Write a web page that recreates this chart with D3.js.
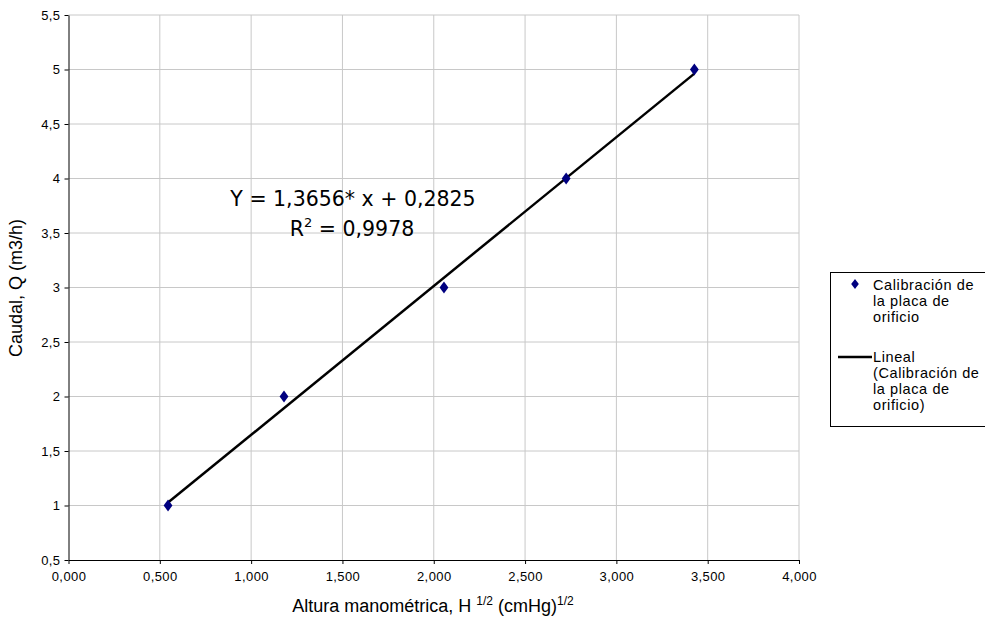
<!DOCTYPE html>
<html><head><meta charset="utf-8">
<script src="https://cdn.jsdelivr.net/npm/d3@7"></script>
<style>body{margin:0;background:#fff;}svg{display:block;}</style>
</head><body>
<svg id="c" width="985" height="621"></svg>
<script>
const xValues = [0.545, 1.180, 2.056, 2.725, 3.427];
const yValues = [1, 2, 3, 4, 5];
const slope = 1.3656, intercept = 0.2825;
const xTicks = [0, 0.5, 1, 1.5, 2, 2.5, 3, 3.5, 4];
const yTicks = [0.5, 1, 1.5, 2, 2.5, 3, 3.5, 4, 4.5, 5, 5.5];
const legendSeries = ["Calibración de", "la placa de", "orificio"];
const legendTrend = ["Lineal", "(Calibración de", "la placa de", "orificio)"];

const svg = d3.select("#c");
const L = 68.5, R = 799, T = 15, B = 560;
const x = d3.scaleLinear().domain([0, 4]).range([L, R]);
const y = d3.scaleLinear().domain([0.5, 5.5]).range([B, T]);
const fmtX = v => d3.format(".3f")(v).replace(".", ",");
const fmtY = v => String(v).replace(".", ",");
const SANS = "Liberation Sans, Arial, sans-serif";

// grid
const g = svg.append("g");
g.selectAll(".gx").data(xTicks.slice(1)).join("line")
  .attr("x1", d => x(d)).attr("x2", d => x(d)).attr("y1", T).attr("y2", B)
  .attr("stroke", "#c8c8c8").attr("stroke-width", 1);
g.selectAll(".gy").data(yTicks.slice(1)).join("line")
  .attr("x1", L).attr("x2", R).attr("y1", d => y(d)).attr("y2", d => y(d))
  .attr("stroke", "#c8c8c8").attr("stroke-width", 1);

// axes
const xa = svg.append("g").attr("transform", `translate(0,${B})`)
  .call(d3.axisBottom(x).tickValues(xTicks).tickFormat(fmtX).tickSize(4).tickSizeOuter(0));
const ya = svg.append("g").attr("transform", `translate(${L},0)`)
  .call(d3.axisLeft(y).tickValues(yTicks).tickFormat(fmtY).tickSize(4).tickSizeOuter(0));
[xa, ya].forEach(a => {
  a.select(".domain").attr("stroke", "#000");
  a.selectAll(".tick line").attr("stroke", "#000");
  a.selectAll("text").attr("font-family", SANS).attr("font-size", 13)
    .attr("letter-spacing", 0.4).attr("fill", "#000");
});
xa.selectAll("text").attr("y", 12).attr("dy", "0.71em");
ya.selectAll("text").attr("x", -8).attr("dy", "0.32em");

// trendline
const xmin = d3.min(xValues), xmax = d3.max(xValues);
svg.append("line")
  .attr("x1", x(xmin)).attr("y1", y(slope * xmin + intercept))
  .attr("x2", x(xmax)).attr("y2", y(slope * xmax + intercept))
  .attr("stroke", "#000").attr("stroke-width", 2.5);

// points
const diamond = d3.symbol().type(d3.symbolDiamond).size(40);
svg.selectAll(".pt").data(xValues).join("path")
  .attr("d", diamond)
  .attr("transform", (d, i) => `translate(${x(d)},${y(yValues[i])}) scale(1.3,1)`)
  .attr("fill", "#000080");

// equation
const eq = svg.append("g").attr("font-family", "DejaVu Sans, Verdana, sans-serif").attr("font-size", 20.5).attr("fill", "#000");
eq.append("text").attr("x", 353).attr("y", 206).attr("text-anchor", "middle")
  .attr("xml:space", "preserve").text("Y = 1,3656* x + 0,2825");
const r2 = eq.append("text").attr("x", 352).attr("y", 236).attr("text-anchor", "middle");
r2.append("tspan").text("R");
r2.append("tspan").attr("font-size", 13).attr("dy", -9).text("2");
r2.append("tspan").attr("dy", 9).text(" = 0,9978");

// axis titles
svg.append("text").attr("x", 433).attr("y", 612).attr("text-anchor", "middle")
  .attr("font-family", SANS).attr("font-size", 18)
  .call(t => {
    t.append("tspan").text("Altura manométrica, H ");
    t.append("tspan").attr("font-size", 12).attr("dy", -7).text("1/2");
    t.append("tspan").attr("dy", 7).text(" (cmHg)");
    t.append("tspan").attr("font-size", 12).attr("dy", -7).text("1/2");
  });
svg.append("text").attr("transform", "translate(22,288) rotate(-90)").attr("text-anchor", "middle")
  .attr("font-family", SANS).attr("font-size", 18)
  .text("Caudal, Q (m3/h)");

// legend
const lg = svg.append("g");
lg.append("rect").attr("x", 830.5).attr("y", 272.5).attr("width", 160).attr("height", 154)
  .attr("fill", "#fff").attr("stroke", "#000").attr("stroke-width", 1);
lg.append("path").attr("d", d3.symbol().type(d3.symbolDiamond).size(30))
  .attr("transform", "translate(855,284) scale(1.3,1)").attr("fill", "#000080");
lg.selectAll(".ls").data(legendSeries).join("text")
  .attr("x", 873).attr("y", (d, i) => 290 + i * 16)
  .attr("font-family", SANS).attr("font-size", 14.5).attr("letter-spacing", 0.6).text(d => d);
lg.append("line").attr("x1", 838).attr("x2", 872).attr("y1", 357).attr("y2", 357)
  .attr("stroke", "#000").attr("stroke-width", 2.5);
lg.selectAll(".lt").data(legendTrend).join("text")
  .attr("x", 873).attr("y", (d, i) => 362 + i * 16)
  .attr("font-family", SANS).attr("font-size", 14.5).attr("letter-spacing", 0.6).text(d => d);
</script>
</body></html>
